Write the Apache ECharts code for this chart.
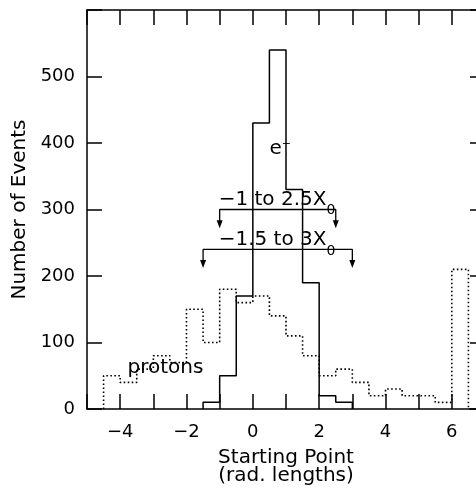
<!DOCTYPE html>
<html><head><meta charset="utf-8">
<script src="https://cdn.jsdelivr.net/npm/echarts@6/dist/echarts.min.js"></script>
<style>html,body{margin:0;padding:0;background:#fff}#c{width:476px;height:493px}</style>
</head><body><div id="c"></div><script>
// ---- data ----
const binWidth = 0.5;
const electronBins   = [-1.5,-1,-0.5,0,0.5,1,1.5,2,2.5];
const electronCounts = [10,50,170,430,540,330,190,20,10];
const protonBins   = [-4.5,-4,-3.5,-3,-2.5,-2,-1.5,-1,-0.5,0,0.5,1,1.5,2,2.5,3,3.5,4,4.5,5,5.5,6,6.5];
const protonCounts = [50,40,60,80,70,150,100,180,160,170,140,110,80,50,60,40,20,30,20,20,10,210,0];
const xLabelTicks = [-4,-2,0,2,4,6];
const yLabelTicks = [0,100,200,300,400,500];
const windowFrom  = [-1, -1.5];
const windowTo    = [2.5, 3];
const windowLevel = [300, 240];
const windowText  = ['−1 to 2.5X', '−1.5 to 3X'];
const windowSub   = ['0', '0'];
const windowTextAt = [[-1.03, 315], [-1.03, 254]];
const noteText = ['protons', 'e'];
const noteAt   = [[-3.78, 62], [0.5, 391]];

// ---- build ----
const FONT = 'DejaVu Sans';
const BLACK = '#000';
function steps(bins, counts){
  const d = [[bins[0], 0]];
  bins.forEach((b, i) => d.push([b, counts[i]]));
  d.push([bins[bins.length-1] + binWidth, 0]);
  return d;
}
const minus = v => (v < 0 ? '−' + Math.abs(v) : String(v));
const drop = 22;
const arrowItem = (x, y) => ({value:[x, y], symbol:'triangle', symbolRotate:180, symbolSize:[6,8]});

const series = [
  {type:'line', step:'end', data:steps(protonBins, protonCounts), symbol:'none', silent:true,
   lineStyle:{color:BLACK, width:1.6, type:[1.6,2.4]}, z:2},
  {type:'line', step:'end', data:steps(electronBins, electronCounts), symbol:'none', silent:true,
   lineStyle:{color:BLACK, width:1.5}, z:3}
];
windowFrom.forEach((f, i) => {
  const t = windowTo[i], lv = windowLevel[i];
  series.push({type:'line', symbol:'none', showSymbol:true, silent:true,
    data:[arrowItem(f, lv - drop), [f, lv], [t, lv], arrowItem(t, lv - drop)],
    lineStyle:{color:BLACK, width:1.3}, itemStyle:{color:BLACK}, z:4});
});
const textData = windowText.map((s, i) => ({value:windowTextAt[i],
  label:{formatter: s + '{s|' + windowSub[i] + '}'}}));
textData.push({value:noteAt[0], label:{formatter: noteText[0]}});
textData.push({value:noteAt[1], label:{formatter: noteText[1] + '{p|−}'}});
series.push({type:'scatter', symbolSize:0, silent:true, data:textData, z:5,
  itemStyle:{color:BLACK, opacity:1},
  label:{show:true, position:'right', distance:0, color:BLACK, opacity:1, textBorderWidth:0,
    fontFamily:FONT, fontSize:20,
    rich:{s:{fontFamily:FONT, fontSize:14, color:BLACK, padding:[22,0,0,0]},
          p:{fontFamily:FONT, fontSize:11, color:BLACK, padding:[0,0,10,0]}}}});

const axisLine = {show:true, onZero:false, lineStyle:{color:BLACK, width:1.5}};
const tick = {show:true, inside:true, length:15, lineStyle:{color:BLACK, width:1.5}};
const chart = echarts.init(document.getElementById('c'), null, {renderer:'canvas'});
chart.setOption({
  animation:false,
  backgroundColor:'#fff',
  grid:{left:87, top:10, width:398, height:399, containLabel:false, outerBoundsMode:'none'},
  xAxis:[
    {type:'value', position:'bottom', min:-5, max:7, interval:1, axisLine, axisTick:tick, splitLine:{show:false},
     axisLabel:{margin:14, color:BLACK, fontFamily:FONT, fontSize:18,
       formatter:v => xLabelTicks.includes(v) ? minus(v) : ''},
     name:'Starting Point\n(rad. lengths)', nameLocation:'middle', nameGap:40,
     nameTextStyle:{color:BLACK, fontFamily:FONT, fontSize:20, lineHeight:18}},
    {type:'value', position:'top', min:-5, max:7, interval:1, axisLine, axisTick:tick,
     axisLabel:{show:false}, splitLine:{show:false}}
  ],
  yAxis:[
    {type:'value', position:'left', min:0, max:600, interval:100, axisLine, axisTick:tick, splitLine:{show:false},
     axisLabel:{margin:12, color:BLACK, fontFamily:FONT, fontSize:18,
       formatter:v => yLabelTicks.includes(v) ? String(v) : ''},
     name:'Number of Events', nameLocation:'middle', nameGap:51,
     nameTextStyle:{color:BLACK, fontFamily:FONT, fontSize:20}},
    {type:'value', position:'right', min:0, max:600, interval:100, axisLine, axisTick:tick,
     axisLabel:{show:false}, splitLine:{show:false}}
  ],
  series
});
</script></body></html>
